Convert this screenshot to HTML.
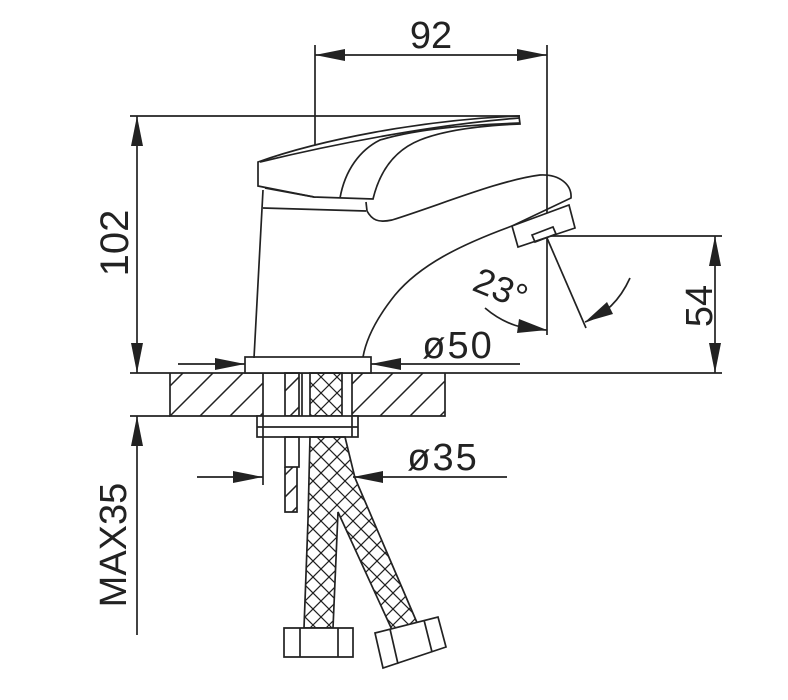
<!DOCTYPE html>
<html><head><style>html,body{margin:0;padding:0;background:#fff}svg{display:block}</style></head><body>
<svg width="788" height="700" viewBox="0 0 788 700" xmlns="http://www.w3.org/2000/svg">
<defs>
<clipPath id="ct"><rect x="170" y="373" width="93" height="43"/><rect x="352" y="373" width="93" height="43"/><rect x="285" y="373" width="14" height="43"/><rect x="285" y="467" width="12" height="45"/></clipPath>
<clipPath id="hs"><rect x="310" y="373" width="32" height="43"/><path d="M310,437 L345,437 L355,478 L418,625 L393,632 L338,512 L333,628 L304,628 L308,520 Z"/></clipPath>
</defs>
<g fill="none" stroke="#222" stroke-width="1.7" font-family="Liberation Sans, sans-serif">
<g clip-path="url(#ct)" stroke-width="1.5">
<path d="M140,416 L183,373 M170,416 L213,373 M200,416 L243,373 M230,416 L273,373 M260,416 L303,373 M290,416 L333,373 M320,416 L363,373 M350,416 L393,373 M380,416 L423,373 M410,416 L453,373 M440,416 L483,373 M270,512 L315,467 M270,490 L315,445 M270,534 L315,489"/>
</g>
<g clip-path="url(#hs)" stroke-width="1.2">
<path d="M10,640L280,370M26,640L296,370M42,640L312,370M58,640L328,370M74,640L344,370M90,640L360,370M106,640L376,370M122,640L392,370M138,640L408,370M154,640L424,370M170,640L440,370M186,640L456,370M202,640L472,370M218,640L488,370M234,640L504,370M250,640L520,370M266,640L536,370M282,640L552,370M298,640L568,370M314,640L584,370M330,640L600,370M346,640L616,370M362,640L632,370M378,640L648,370M394,640L664,370M410,640L680,370M426,640L696,370M442,640L712,370M458,640L728,370"/>
<path d="M-22,370L248,640M-6,370L264,640M10,370L280,640M26,370L296,640M42,370L312,640M58,370L328,640M74,370L344,640M90,370L360,640M106,370L376,640M122,370L392,640M138,370L408,640M154,370L424,640M170,370L440,640M186,370L456,640M202,370L472,640M218,370L488,640M234,370L504,640M250,370L520,640M266,370L536,640M282,370L552,640M298,370L568,640M314,370L584,640M330,370L600,640M346,370L616,640M362,370L632,640M378,370L648,640M394,370L664,640M410,370L680,640M426,370L696,640"/>
</g>
<line x1="315" y1="45" x2="315" y2="198"/>
<line x1="547" y1="45" x2="547" y2="335"/>
<line x1="315" y1="55" x2="547" y2="55"/>
<text x="431" y="48" font-size="38" fill="#222" stroke="none" text-anchor="middle">92</text>
<line x1="130" y1="116" x2="520" y2="116"/>
<line x1="137" y1="116" x2="137" y2="373"/>
<text transform="translate(128,243) rotate(-90)" font-size="40" fill="#222" stroke="none" text-anchor="middle">102</text>
<line x1="547" y1="236" x2="722" y2="236"/>
<line x1="715" y1="236" x2="715" y2="373"/>
<text transform="translate(712,306) rotate(-90)" font-size="38" fill="#222" stroke="none" text-anchor="middle">54</text>
<line x1="130" y1="416" x2="170" y2="416"/>
<line x1="137" y1="416" x2="137" y2="635"/>
<text transform="translate(126,545) rotate(-90)" font-size="38" fill="#222" stroke="none" text-anchor="middle">MAX35</text>
<line x1="130" y1="373" x2="722" y2="373"/>
<path d="M170,373 V416 H263 V373 M352,373 V416 H445 V373"/>
<rect x="245" y="357" width="126" height="16" fill="#fff"/>
<line x1="178" y1="364" x2="245" y2="364"/>
<line x1="520" y1="364" x2="371" y2="364"/>
<text x="458" y="358" font-size="38" fill="#222" stroke="none" text-anchor="middle" letter-spacing="2">ø50</text>
<rect x="285" y="373" width="14" height="43"/>
<rect x="310" y="373" width="32" height="43"/>
<line x1="302" y1="373" x2="302" y2="416"/>
<rect x="257" y="416" width="101" height="21" fill="#fff"/>
<line x1="257" y1="427" x2="358" y2="427"/>
<line x1="263" y1="416" x2="263" y2="485"/>
<line x1="352" y1="416" x2="352" y2="437"/>
<rect x="285" y="437" width="14" height="30"/>
<path d="M285,467 V512 H297 V467"/>
<path d="M310,437 L345,437 L355,478 L418,625 L393,632 L338,512 L333,628 L304,628 L308,520 Z"/>
<path d="M284,628 H353 V657 H284 Z M300,628 V657 M338,628 V657" fill="#fff"/>
<path d="M375,633 L438,617 L446,647 L383,668 Z M390,629 L398,664 M424,620 L432,652" fill="#fff"/>
<line x1="197" y1="477" x2="263" y2="477"/>
<line x1="507" y1="477" x2="353" y2="477"/>
<text x="443" y="470" font-size="38" fill="#222" stroke="none" text-anchor="middle" letter-spacing="2">ø35</text>
<path d="M258,186 L258,162 C320,140 420,120 519,116 L520,124 C470,126 440,132 420,140 C395,150 380,170 373,199 L314,197 Z" fill="#fff"/>
<path d="M260,162 C330,145 430,125 519,118"/>
<path d="M340,198 C345,170 360,150 380,140 C420,128 470,125 520,123"/>
<path d="M263,190 L254,358 M263,208 L366,211 M265,188 L314,197 M366,202 L367,211 C372,220 378,223 392,220 C440,205 500,180 540,175 C560,174 572,185 571,198 L512,226 C460,245 420,265 395,295 C375,320 366,340 363,357"/>
<path d="M512,226 L569,205 L575,228 L518,247 Z" fill="#fff"/>
<path d="M532,235 L553,227 L556,234 L535,242 Z"/>
<line x1="547" y1="238" x2="586" y2="328"/>
<path d="M485,308 C505,325 525,330 547,330"/>
<path d="M630,278 C620,300 605,315 585,322"/>
<text transform="translate(496,300) rotate(22)" font-size="36" fill="#222" stroke="none" text-anchor="middle">23°</text>
</g>
<g fill="#222">
<polygon points="315,55 345,49 345,61"/><polygon points="547,55 517,49 517,61"/>
<polygon points="137,116 131,146 143,146"/><polygon points="137,373 131,343 143,343"/>
<polygon points="715,236 709,266 721,266"/><polygon points="715,373 709,343 721,343"/>
<polygon points="137,416 131,446 143,446"/>
<polygon points="245,364 215,358 215,370"/><polygon points="371,364 401,358 401,370"/>
<polygon points="263,477 233,471 233,483"/><polygon points="353,477 383,471 383,483"/>
<polygon points="547,330 519,319 517,333"/><polygon points="585,322 607,302 613,314"/>
</g>
</svg>
</body></html>
